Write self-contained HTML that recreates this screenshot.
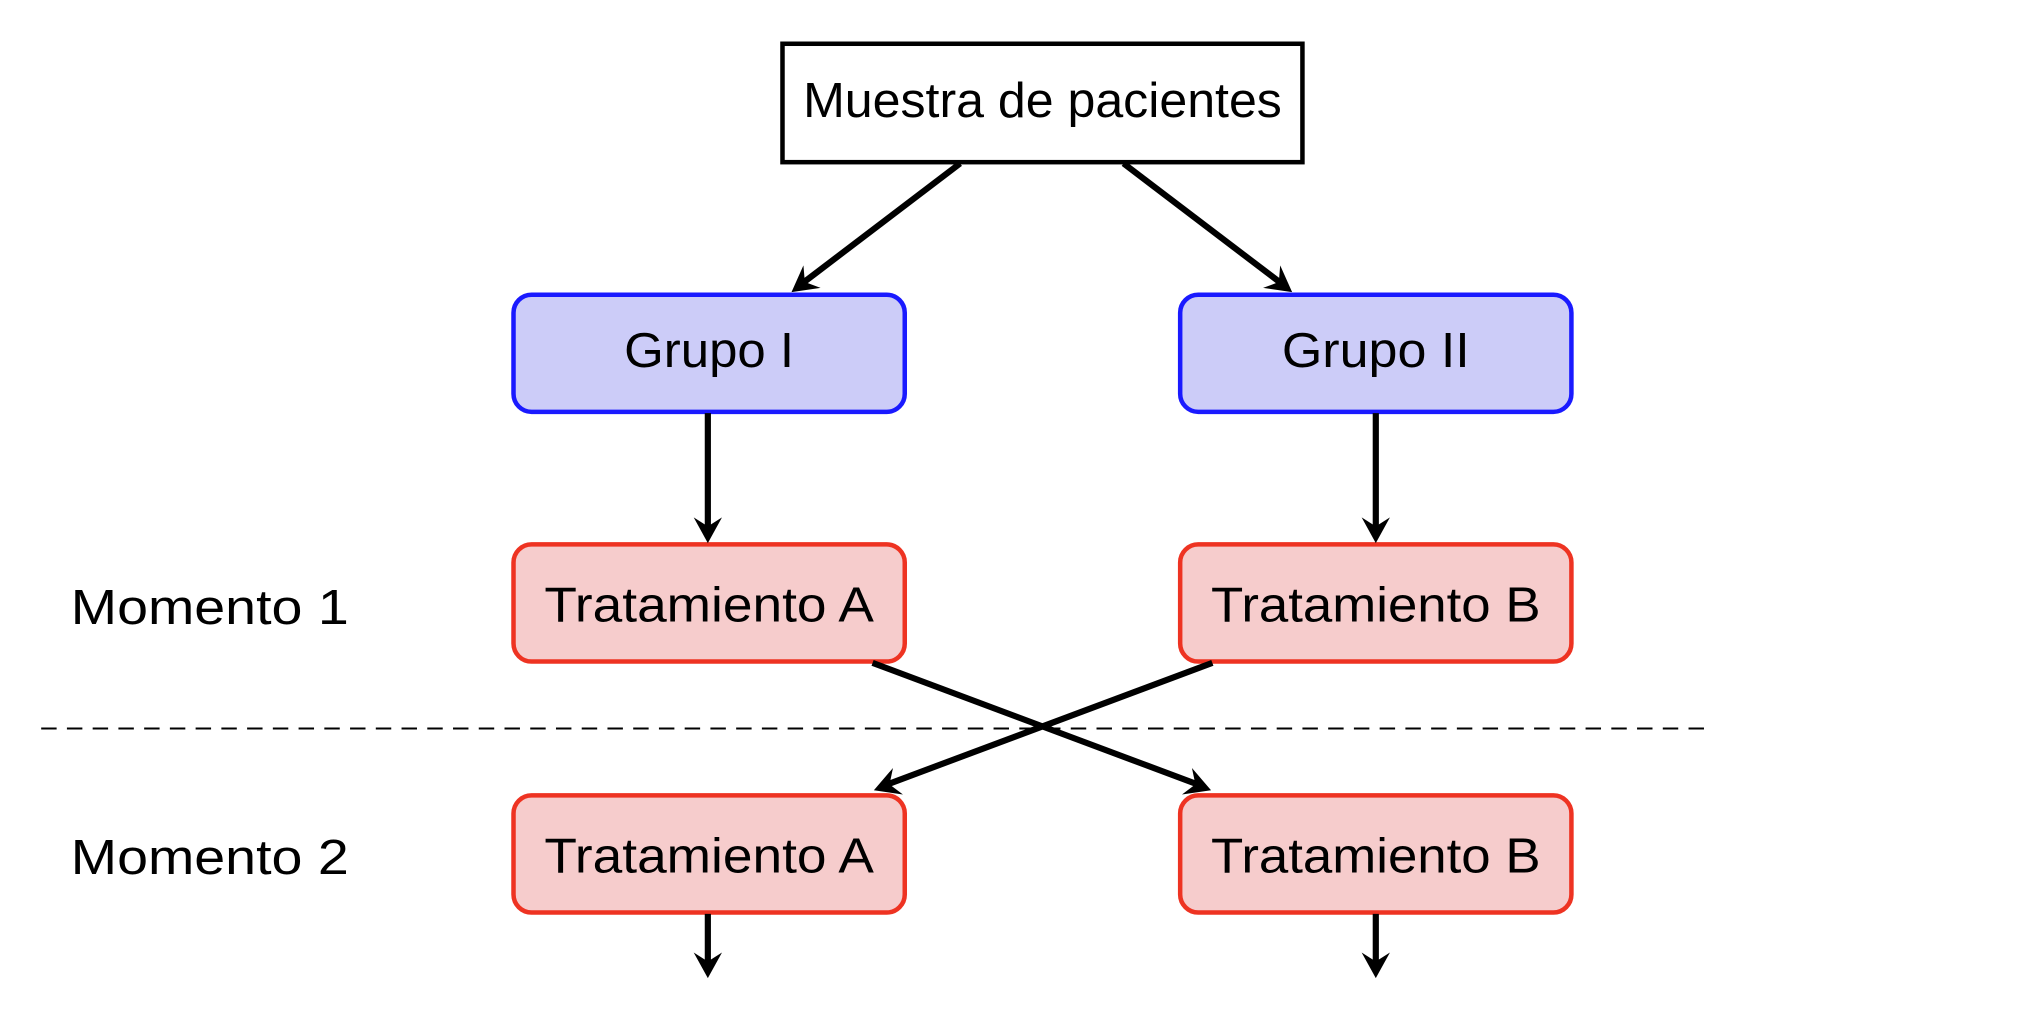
<!DOCTYPE html>
<html><head><meta charset="utf-8"><style>html,body{margin:0;padding:0;background:#fff}svg{display:block}</style></head>
<body>
<svg width="2018" height="1024" viewBox="0 0 1568 795.6" preserveAspectRatio="none" xmlns="http://www.w3.org/2000/svg">
<g font-family="Liberation Sans, DejaVu Sans, sans-serif" font-size="38" text-anchor="middle" fill="#000">
<rect x="608" y="34" width="404" height="92" fill="#fff" stroke="#000" stroke-width="3.5"/>
<text x="810" y="91" textLength="372" lengthAdjust="spacingAndGlyphs">Muestra de pacientes</text>

<rect x="399" y="229" width="304" height="91" rx="14" fill="#ccccf8" stroke="#1a1aff" stroke-width="3.5"/>
<text x="551" y="285" textLength="132" lengthAdjust="spacingAndGlyphs">Grupo I</text>
<rect x="917" y="229" width="304" height="91" rx="14" fill="#ccccf8" stroke="#1a1aff" stroke-width="3.5"/>
<text x="1069" y="285" textLength="146" lengthAdjust="spacingAndGlyphs">Grupo II</text>

<rect x="399" y="423" width="304" height="91" rx="14" fill="#f6cccc" stroke="#ee3322" stroke-width="3.5"/>
<text x="551" y="483" textLength="256" lengthAdjust="spacingAndGlyphs">Tratamiento A</text>
<rect x="917" y="423" width="304" height="91" rx="14" fill="#f6cccc" stroke="#ee3322" stroke-width="3.5"/>
<text x="1069" y="483" textLength="256" lengthAdjust="spacingAndGlyphs">Tratamiento B</text>

<rect x="399" y="618" width="304" height="91" rx="14" fill="#f6cccc" stroke="#ee3322" stroke-width="3.5"/>
<text x="551" y="678" textLength="256" lengthAdjust="spacingAndGlyphs">Tratamiento A</text>
<rect x="917" y="618" width="304" height="91" rx="14" fill="#f6cccc" stroke="#ee3322" stroke-width="3.5"/>
<text x="1069" y="678" textLength="256" lengthAdjust="spacingAndGlyphs">Tratamiento B</text>

<text x="163" y="485" textLength="216" lengthAdjust="spacingAndGlyphs">Momento 1</text>
<text x="163" y="679" textLength="216" lengthAdjust="spacingAndGlyphs">Momento 2</text>
</g>
<line x1="32" y1="566" x2="1330" y2="566" stroke="#000" stroke-width="1.5" stroke-dasharray="12,8"/>
<g stroke="#000" stroke-width="4.8" fill="none" stroke-linecap="butt">
<line x1="746" y1="127" x2="621" y2="222"/>
<line x1="873" y1="127" x2="998" y2="222"/>
<line x1="550" y1="321" x2="550" y2="414"/>
<line x1="1069" y1="321" x2="1069" y2="414"/>
<line x1="678" y1="515" x2="932" y2="610"/>
<line x1="942" y1="515" x2="688" y2="610"/>
<line x1="550" y1="710" x2="550" y2="752"/>
<line x1="1069" y1="710" x2="1069" y2="752"/>
</g>
<g fill="#000">
<path d="M0,0 L-20,-11 L-13,0 L-20,11 Z" transform="translate(615,227) rotate(142.8)"/>
<path d="M0,0 L-20,-11 L-13,0 L-20,11 Z" transform="translate(1004,227) rotate(37.2)"/>
<path d="M0,0 L-20,-11 L-13,0 L-20,11 Z" transform="translate(550,422) rotate(90)"/>
<path d="M0,0 L-20,-11 L-13,0 L-20,11 Z" transform="translate(1069,422) rotate(90)"/>
<path d="M0,0 L-20,-11 L-13,0 L-20,11 Z" transform="translate(941,614) rotate(20.6)"/>
<path d="M0,0 L-20,-11 L-13,0 L-20,11 Z" transform="translate(679,614) rotate(159.4)"/>
<path d="M0,0 L-20,-11 L-13,0 L-20,11 Z" transform="translate(550,760) rotate(90)"/>
<path d="M0,0 L-20,-11 L-13,0 L-20,11 Z" transform="translate(1069,760) rotate(90)"/>
</g>
</svg>
</body></html>
